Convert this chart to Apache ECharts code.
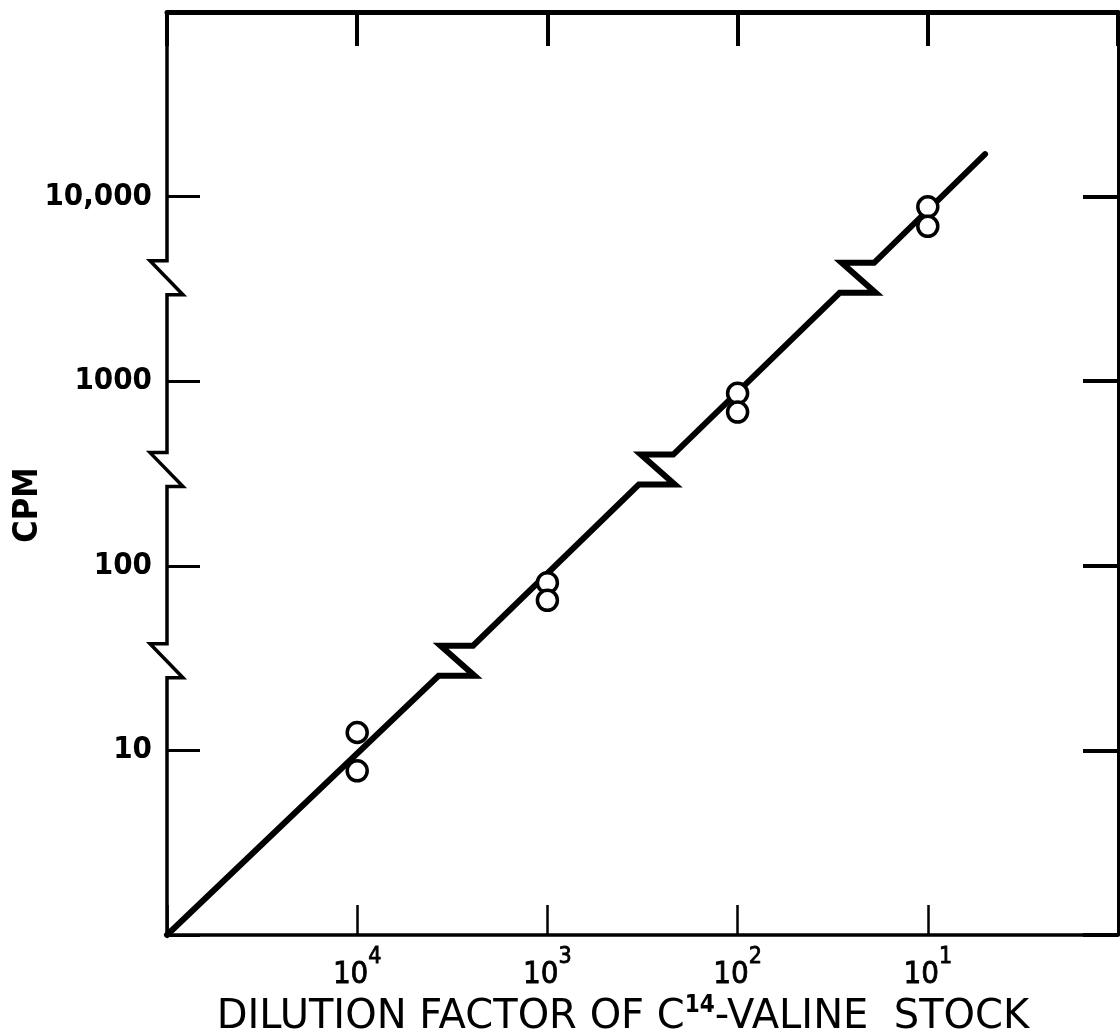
<!DOCTYPE html>
<html><head><meta charset="utf-8">
<script src="https://cdn.jsdelivr.net/npm/echarts@6/dist/echarts.min.js"></script>
<style>html,body{margin:0;padding:0;background:#fff}#c{width:1120px;height:1036px}</style>
</head><body><div id="c"></div>
<script>
// ---- data ----
const dilutionRange = [100000, 1];          // axis extent (left -> right)
const cpmRange = [1, 100000];               // axis extent (bottom -> top)
const dilutionExpLabels = ['', '1', '2', '3', '4', ''];        // index = exponent
const cpmTickLabels = ['', '10', '100', '1000', '10,000', ''];  // index = exponent
const pointDilution = [10000, 10000, 1000, 1000, 100, 100, 10, 10];
const pointCPM = [12.5, 7.75, 81, 65, 860, 680, 8800, 6900];
const fitDilution = [100000, 5];
const fitCPM = [1, 17000];
const breakCPM = [30.6, 332, 3630];          // levels of the break marks

const FONT = "'DejaVu Sans Condensed', 'DejaVu Sans', sans-serif";
const FONT_R = "'DejaVu Sans', sans-serif";
const chart = echarts.init(document.getElementById('c'), null, {renderer: 'canvas'});

function spineItem(params, api) {
  const b = api.coord([dilutionRange[0], cpmRange[0]]);
  const t = api.coord([dilutionRange[0], cpmRange[1]]);
  const x0 = b[0];
  const h = 17;
  const pts = [[x0, b[1]]];
  breakCPM.slice().sort((a, c) => a - c).forEach(c => {
    const yc = api.coord([dilutionRange[0], c])[1];
    pts.push([x0, yc + h], [x0 + 16, yc + h], [x0 - 17, yc - h], [x0, yc - h]);
  });
  pts.push([x0, t[1]]);
  return {type: 'polyline', shape: {points: pts},
    style: {stroke: '#000', lineWidth: 3.5, fill: 'none', lineJoin: 'miter'}};
}

function fitItem(params, api) {
  const p0 = api.coord([fitDilution[0], fitCPM[0]]);
  const p1 = api.coord([fitDilution[1], fitCPM[1]]);
  const xAt = y => p0[0] + (y - p0[1]) * (p1[0] - p0[0]) / (p1[1] - p0[1]);
  const h = 15;
  const pts = [p0];
  breakCPM.slice().sort((a, c) => a - c).forEach(c => {
    const yc = api.coord([fitDilution[0], c])[1];
    const yL = yc + h, yU = yc - h;
    const xL = xAt(yL), xU = xAt(yU);
    pts.push([xL, yL], [xL + 36, yL], [xL + 2, yU], [xU + 3, yU]);
  });
  pts.push(p1);
  return {type: 'polyline', shape: {points: pts},
    style: {stroke: '#000', lineWidth: 6, fill: 'none', lineJoin: 'miter', lineCap: 'round'}};
}

const axisCommon = {
  type: 'log', logBase: 10, splitLine: {show: false}, minorTick: {show: false},
  axisPointer: {show: false}
};

chart.setOption({
  animation: false,
  backgroundColor: '#fff',
  grid: {left: 167, right: 2, top: 12, bottom: 101, containLabel: false, outerBoundsMode: 'none'},
  xAxis: [
    Object.assign({}, axisCommon, {
      position: 'bottom', inverse: true, min: dilutionRange[1], max: dilutionRange[0],
      axisLine: {show: true, lineStyle: {color: '#000', width: 3.5}},
      axisTick: {show: true, inside: true, length: 30, lineStyle: {color: '#000', width: 2.5}},
      axisLabel: {
        margin: 11,
        formatter: v => { const e = Math.round(Math.log10(v)); return dilutionExpLabels[e] ? '{b|10}{s|' + dilutionExpLabels[e] + '}' : ''; },
        rich: {
          b: {fontSize: 31, fontFamily: FONT, color: '#000', verticalAlign: 'bottom', lineHeight: 44,
              textBorderColor: '#000', textBorderWidth: 0.8},
          s: {fontSize: 23, fontFamily: FONT, color: '#000', verticalAlign: 'top', lineHeight: 20,
              textBorderColor: '#000', textBorderWidth: 0.8}
        }
      }
    }),
    Object.assign({}, axisCommon, {
      position: 'top', inverse: true, min: dilutionRange[1], max: dilutionRange[0],
      axisLine: {show: true, lineStyle: {color: '#000', width: 5}},
      axisTick: {show: true, inside: true, length: 34, lineStyle: {color: '#000', width: 4}},
      axisLabel: {show: false}
    })
  ],
  yAxis: [
    Object.assign({}, axisCommon, {
      position: 'left', min: cpmRange[0], max: cpmRange[1],
      axisLine: {show: false},
      axisTick: {show: true, inside: true, length: 33, lineStyle: {color: '#000', width: 3}},
      axisLabel: {
        margin: 15, fontSize: 31, fontWeight: 'bold', fontFamily: FONT, color: '#000',
        formatter: v => cpmTickLabels[Math.round(Math.log10(v))] || ''
      }
    }),
    Object.assign({}, axisCommon, {
      position: 'right', min: cpmRange[0], max: cpmRange[1],
      axisLine: {show: true, lineStyle: {color: '#000', width: 3}},
      axisTick: {show: true, inside: true, length: 35, lineStyle: {color: '#000', width: 4}},
      axisLabel: {show: false}
    })
  ],
  graphic: [
    {type: 'text', x: 28, y: 505, rotation: Math.PI / 2,
      style: {text: 'CPM', font: "bold 34px " + FONT, fill: '#000', align: 'center', verticalAlign: 'middle'}},
    {type: 'text', x: 623, y: 1016,
      style: {text: '{a|DILUTION FACTOR OF C}{s|14}{a|-VALINE  STOCK}', align: 'center', verticalAlign: 'middle',
        rich: {
          a: {fontSize: 40, fontFamily: FONT_R, fill: '#000', color: '#000', verticalAlign: 'bottom', lineHeight: 44},
          s: {fontSize: 24, fontFamily: FONT, fontWeight: 'bold', fill: '#000', color: '#000', verticalAlign: 'top', lineHeight: 24}
        }}}
  ],
  series: [
    {type: 'custom', name: 'spine', xAxisIndex: 0, yAxisIndex: 0, clip: false, silent: true, z: 3,
      renderItem: spineItem, data: [[dilutionRange[0], cpmRange[0]]]},
    {type: 'custom', name: 'fit', xAxisIndex: 0, yAxisIndex: 0, clip: false, silent: true, z: 4,
      renderItem: fitItem, data: [[fitDilution[0], fitCPM[0]]]},
    {type: 'scatter', name: 'CPM', xAxisIndex: 0, yAxisIndex: 0, z: 5, silent: true,
      symbol: 'circle', symbolSize: 20,
      itemStyle: {color: '#fff', borderColor: '#000', borderWidth: 3.5, opacity: 1},
      data: pointDilution.map((d, i) => [d, pointCPM[i]])}
  ]
});
</script></body></html>
